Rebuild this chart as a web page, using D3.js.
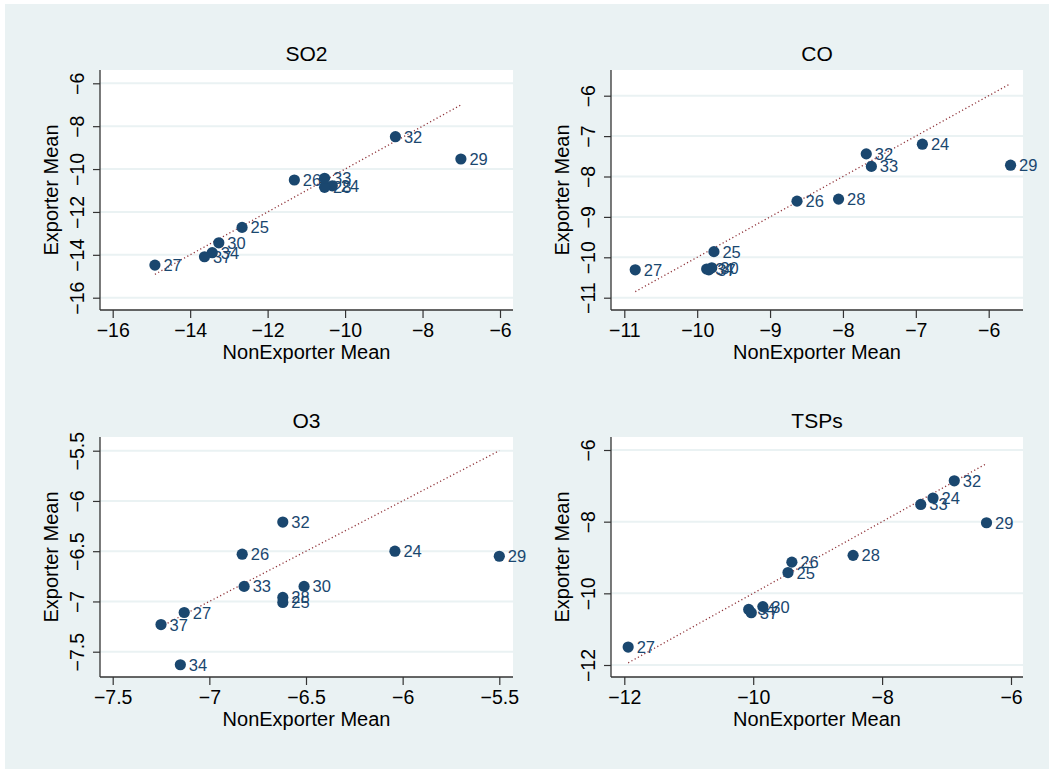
<!DOCTYPE html>
<html>
<head>
<meta charset="utf-8">
<script src="https://cdn.jsdelivr.net/npm/d3@7"></script>
<style>
  html, body { margin: 0; padding: 0; background: #ffffff; }
  svg { display: block; }
  text { font-family: "Liberation Sans", Arial, sans-serif; }
</style>
</head>
<body>
<svg id="chart" width="1049" height="769"></svg>
<script>
// ---------- data ----------
const industries = ["24", "25", "26", "27", "28", "29", "30", "32", "33", "34", "37"];

const so2NonExp = [-10.33, -12.66, -11.31, -14.91, -10.53, -7.01, -13.26, -8.70, -10.53, -13.43, -13.63];
const so2Exp    = [-10.78, -12.72, -10.51, -14.48, -10.85, -9.53, -13.44, -8.49, -10.43, -13.90, -14.09];

const coNonExp  = [-6.91, -9.77, -8.63, -10.85, -8.06, -5.70, -9.80, -7.68, -7.61, -9.87, -9.84];
const coExp     = [-7.20, -9.86, -8.61, -10.31, -8.56, -7.72, -10.26, -7.44, -7.75, -10.29, -10.31];

const o3NonExp  = [-6.04, -6.62, -6.83, -7.13, -6.62, -5.50, -6.51, -6.62, -6.82, -7.15, -7.25];
const o3Exp     = [-6.50, -7.01, -6.53, -7.11, -6.96, -6.55, -6.85, -6.21, -6.85, -7.63, -7.23];

const tspNonExp = [-7.21, -9.46, -9.40, -11.94, -8.45, -6.38, -9.85, -6.88, -7.40, -10.07, -10.03];
const tspExp    = [-7.34, -9.42, -9.13, -11.50, -8.94, -8.03, -10.37, -6.86, -7.52, -10.45, -10.54];

const titles = ["SO2", "CO", "O3", "TSPs"];
const so2Ticks = [-16, -14, -12, -10, -8, -6];
const coTicks  = [-11, -10, -9, -8, -7, -6];
const o3XTicks = [-7.5, -7, -6.5, -6, -5.5];
const o3YTicks = [-7.5, -7, -6.5, -6, -5.5];
const tspTicks = [-12, -10, -8, -6];
const xTitle = "NonExporter Mean";
const yTitle = "Exporter Mean";

// ---------- layout (pixels only) ----------
const panels = [
  { title: titles[0], xs: so2NonExp, ys: so2Exp, xTicks: so2Ticks, yTicks: so2Ticks,
    rect: [100, 70, 513, 310], xr: [112.7, 500], yr: [297.7, 83.3] },
  { title: titles[1], xs: coNonExp, ys: coExp, xTicks: coTicks, yTicks: coTicks,
    rect: [611, 70, 1023, 310], xr: [624.3, 988.7], yr: [297.7, 95.7] },
  { title: titles[2], xs: o3NonExp, ys: o3Exp, xTicks: o3XTicks, yTicks: o3YTicks,
    rect: [100, 437, 513, 677], xr: [112.7, 499.3], yr: [651.7, 450.7] },
  { title: titles[3], xs: tspNonExp, ys: tspExp, xTicks: tspTicks, yTicks: tspTicks,
    rect: [611, 437, 1023, 677], xr: [624.3, 1011], yr: [665, 450] }
];

const BG = "#eaf2f3";
const NAVY = "#1a476f";
const MAROON = "#90353b";
const fmt = v => (v < 0 ? "\u2212" : "") + String(Math.abs(v));

const svg = d3.select("#chart");
svg.append("rect").attr("x", 5).attr("y", 4).attr("width", 1044).attr("height", 765).attr("fill", BG);

panels.forEach(p => {
  const [L, T, R, B] = p.rect;
  const xMin = d3.min(p.xTicks), xMax = d3.max(p.xTicks);
  const yMin = d3.min(p.yTicks), yMax = d3.max(p.yTicks);
  const x = d3.scaleLinear().domain([xMin, xMax]).range(p.xr);
  const y = d3.scaleLinear().domain([yMin, yMax]).range(p.yr);
  const g = svg.append("g");

  // plot region
  g.append("rect").attr("x", L).attr("y", T).attr("width", R - L).attr("height", B - T).attr("fill", "#ffffff");

  // gridlines
  g.selectAll(".grid").data(p.yTicks).enter().append("line")
    .attr("x1", L).attr("x2", R)
    .attr("y1", d => y(d)).attr("y2", d => y(d))
    .attr("stroke", BG).attr("stroke-width", 2);

  // 45-degree reference line over the data range
  const pts = p.xs.slice().sort((a, b) => a - b);
  const lineGen = d3.line().x(d => x(d)).y(d => y(d));
  g.append("path").datum(pts).attr("d", lineGen)
    .attr("fill", "none").attr("stroke", MAROON).attr("stroke-width", 1.3)
    .attr("stroke-dasharray", "1.2,2.5");

  // axes
  const xAxis = d3.axisBottom(x).tickValues(p.xTicks).tickSize(8).tickPadding(3).tickFormat(fmt);
  const gx = g.append("g").attr("transform", `translate(0,${B})`).call(xAxis);
  gx.select(".domain").attr("d", `M${L},0H${R}`);
  const yAxis = d3.axisLeft(y).tickValues(p.yTicks).tickSize(7).tickFormat(fmt);
  const gy = g.append("g").attr("transform", `translate(${L},0)`).call(yAxis);
  gy.select(".domain").attr("d", `M0,${T}V${B}`);
  [gx, gy].forEach(a => {
    a.select(".domain").attr("stroke", "#333").attr("stroke-width", 1.3);
    a.selectAll(".tick line").attr("stroke", "#333").attr("stroke-width", 1.2);
    a.selectAll(".tick text").attr("fill", "#000").style("font-size", "19.5px")
      .style("font-family", "Liberation Sans, Arial, sans-serif");
  });
  gx.selectAll(".tick text").attr("dy", null).attr("y", 27);
  gy.selectAll(".tick text")
    .attr("x", null).attr("dy", null)
    .attr("transform", "translate(-16.5,0) rotate(-90)")
    .attr("text-anchor", "middle").attr("y", 0);

  // titles
  g.append("text").attr("x", (L + R) / 2).attr("y", T - 9)
    .attr("text-anchor", "middle").style("font-size", "21px").attr("fill", "#000").text(p.title);
  g.append("text").attr("x", (L + R) / 2).attr("y", B + 48.5)
    .attr("text-anchor", "middle").style("font-size", "20px").attr("fill", "#000").text(xTitle);
  g.append("text").attr("transform", `translate(${L - 42},${(T + B) / 2}) rotate(-90)`)
    .attr("text-anchor", "middle").style("font-size", "20px").attr("fill", "#000").text(yTitle);

  // markers and labels
  const data = industries.map((id, i) => ({ id, xv: p.xs[i], yv: p.ys[i] }));
  g.selectAll(".pt").data(data).enter().append("circle")
    .attr("cx", d => x(d.xv)).attr("cy", d => y(d.yv)).attr("r", 5.6).attr("fill", NAVY);
  g.selectAll(".lbl").data(data).enter().append("text")
    .attr("x", d => x(d.xv) + 8.5).attr("y", d => y(d.yv) + 6)
    .style("font-size", "16.5px").attr("fill", NAVY).text(d => d.id);
});
</script>
</body>
</html>
